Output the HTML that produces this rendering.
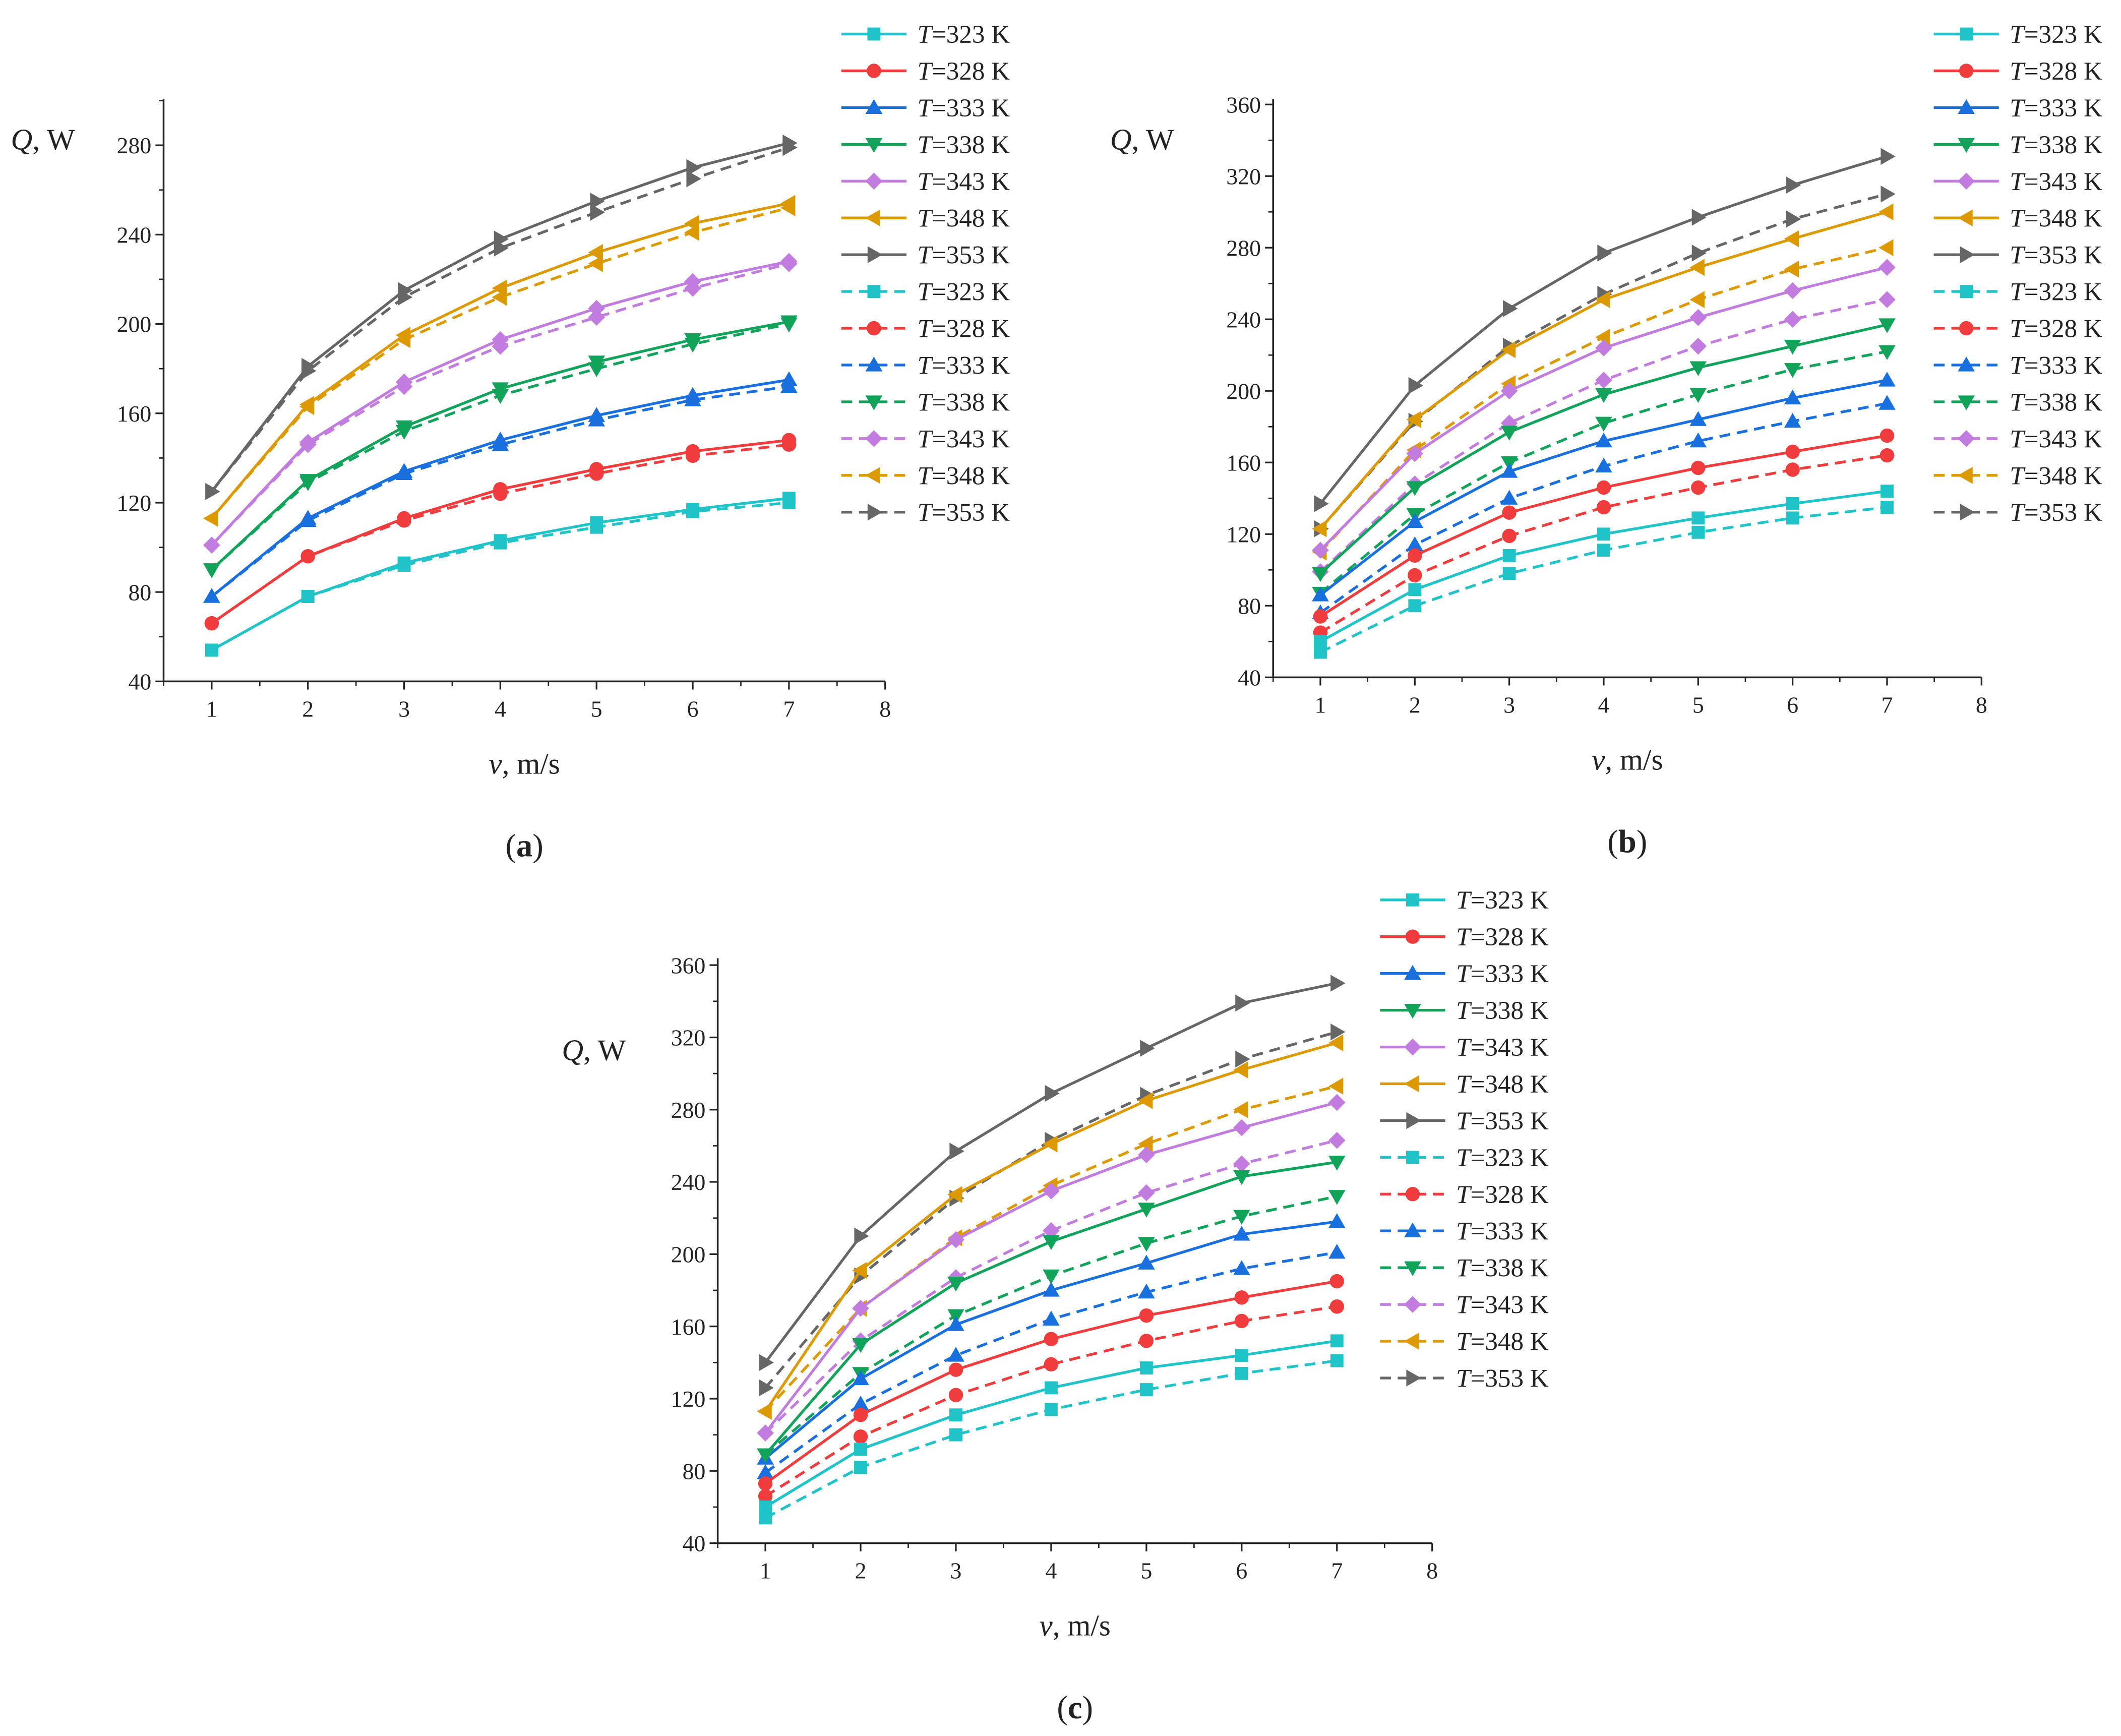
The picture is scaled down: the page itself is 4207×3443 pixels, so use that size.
<!DOCTYPE html>
<html><head><meta charset="utf-8"><style>
html,body{margin:0;padding:0;background:#fff;}
svg{display:block;}
text{font-family:"Liberation Serif",serif;fill:#222;}
</style></head><body>
<svg id="fig" width="4207" height="3443" viewBox="0 0 1563 1279" xmlns="http://www.w3.org/2000/svg"></svg>
<script>
const xCats=[1,2,3,4,5,6,7];
const temps=[323,328,333,338,343,348,353];
const colors=["#1fc3c8","#f03c3c","#1a6fdf","#12a35a","#c27ce0","#dd9a00","#666666"];
const markers=["square","circle","up","down","diamond","left","right"];
const xTicks=[1,2,3,4,5,6,7,8];
const yTicksA=[40,80,120,160,200,240,280];
const yTicksBC=[40,80,120,160,200,240,280,320,360];
// panel a
const aSolid=[[54,78,93,103,111,117,122],[66,96,113,126,135,143,148],[78,113,134,148,159,168,175],[90,130,154,171,183,193,201],[101,147,174,193,207,219,228],[113,164,195,216,232,245,254],[125,181,215,238,255,270,281]];
const aDash=[[54,78,92,102,109,116,120],[66,96,112,124,133,141,146],[78,112,133,146,157,166,172],[90,129,152,168,180,191,200],[101,146,172,190,203,216,227],[113,163,193,212,227,241,252],[125,179,212,234,250,265,279]];
// panel b
const bSolid=[[60,89,108,120,129,137,144],[74,108,132,146,157,166,175],[86,127,155,172,184,196,206],[98,146,177,198,213,225,237],[111,165,200,224,241,256,269],[123,184,223,251,269,285,300],[137,203,246,277,297,315,331]];
const bDash=[[54,80,98,111,121,129,135],[65,97,119,135,146,156,164],[76,114,140,158,172,183,193],[87,131,160,182,198,212,222],[99,148,182,206,225,240,251],[110,167,204,230,251,268,280],[123,183,225,254,277,296,310]];
// panel c
const cSolid=[[60,92,111,126,137,144,152],[73,111,136,153,166,176,185],[87,131,161,180,195,211,218],[89,150,184,207,225,243,251],[101,170,208,235,255,270,284],[113,191,233,261,285,302,317],[140,210,257,289,314,339,350]];
const cDash=[[54,82,100,114,125,134,141],[66,99,122,139,152,163,171],[79,117,144,164,179,192,201],[89,134,166,188,206,221,232],[101,152,187,213,234,250,263],[113,170,209,238,261,280,293],[126,188,231,263,288,308,323]];

const NS="http://www.w3.org/2000/svg";
const svg=document.getElementById('fig');
function el(tag,attrs,parent){const e=document.createElementNS(NS,tag);for(const k in attrs)e.setAttribute(k,attrs[k]);(parent||svg).appendChild(e);return e;}

function marker(g,type,x,y,c,s){
  let e;
  if(type==="square") e=el('rect',{x:x-s,y:y-s,width:2*s,height:2*s,fill:c},g);
  else if(type==="circle") e=el('circle',{cx:x,cy:y,r:s*1.1,fill:c},g);
  else {
    let p;
    const r=s*1.3;
    if(type==="up") p=[[x,y-r],[x+r,y+r*0.75],[x-r,y+r*0.75]];
    if(type==="down") p=[[x,y+r],[x+r,y-r*0.75],[x-r,y-r*0.75]];
    if(type==="left") p=[[x-r,y],[x+r*0.75,y-r],[x+r*0.75,y+r]];
    if(type==="right") p=[[x+r,y],[x-r*0.75,y-r],[x-r*0.75,y+r]];
    if(type==="diamond") p=[[x,y-r],[x+r,y],[x,y+r],[x-r,y]];
    e=el('polygon',{points:p.map(q=>q.join(',')).join(' '),fill:c},g);
  }
  
  
}

function panel(id,P){
  const g=el('g',{});
  
  
  const sx=v=>P.x1+(v-1)*P.ux;
  const sy=v=>P.y40-(v-40)*P.uy;
  const left=sx(0.5), bottom=sy(40), top=P.top, right=sx(8);
  const ax=el('line',{x1:left,y1:bottom,x2:right,y2:bottom,stroke:'#222','stroke-width':1.3},g);
  
  const ay=el('line',{x1:left,y1:bottom,x2:left,y2:top,stroke:'#222','stroke-width':1.3},g);
  
  xTicks.forEach(t=>{
    el('line',{x1:sx(t),y1:bottom,x2:sx(t),y2:bottom+6,stroke:'#222','stroke-width':1.2},g);
    el('line',{x1:sx(t-0.5),y1:bottom,x2:sx(t-0.5),y2:bottom+3.5,stroke:'#222','stroke-width':1},g);
    const tx=el('text',{x:sx(t),y:bottom+26,'font-size':17,'text-anchor':'middle'},g);
    tx.textContent=t;
    
  });
  P.yt.forEach((t,i)=>{
    el('line',{x1:left,y1:sy(t),x2:left-6,y2:sy(t),stroke:'#222','stroke-width':1.2},g);
    if(sy(t+20)>=top-1) el('line',{x1:left,y1:sy(t+20),x2:left-3.5,y2:sy(t+20),stroke:'#222','stroke-width':1},g);
    const ty=el('text',{x:left-9,y:sy(t)+6,'font-size':17,'text-anchor':'end'},g);
    ty.textContent=t;
    
  });
  const yl=el('text',{x:P.qx,y:P.qy,'font-size':22},g);
  yl.innerHTML='<tspan font-style="italic">Q</tspan>, W';
  
  const xl=el('text',{x:(left+right)/2,y:bottom+68,'font-size':22,'text-anchor':'middle'},g);
  xl.innerHTML='<tspan font-style="italic">v</tspan>, m/s';
  
  const cap=el('text',{x:(left+right)/2,y:bottom+129,'font-size':24,'text-anchor':'middle'},g);
  cap.innerHTML='(<tspan font-weight="bold">'+id+'</tspan>)';
  
  [[P.dash,'8,5'],[P.solid,null]].forEach(([set,da])=>{
    set.forEach((vals,i)=>{
      const pts=vals.map((v,j)=>sx(xCats[j])+','+sy(v)).join(' ');
      const a={points:pts,fill:'none',stroke:colors[i],'stroke-width':2};
      if(da) a['stroke-dasharray']=da;
      const pl=el('polyline',a,g);
      
      
      vals.forEach((v,j)=>marker(g,markers[i],sx(xCats[j]),sy(v),colors[i],4.8));
    });
  });
  const lg=el('g',{},g);
  
  for(let k=0;k<14;k++){
    const i=k%7, da=k>=7;
    const y=P.ly+k*27.1;
    const a={x1:P.lx,y1:y,x2:P.lx+48,y2:y,stroke:colors[i],'stroke-width':2};
    if(da)a['stroke-dasharray']='8,5';
    el('line',a,lg);
    marker(lg,markers[i],P.lx+24,y,colors[i],4.8);
    const t=el('text',{x:P.lx+56,y:y+6.5,'font-size':19},lg);
    t.innerHTML='<tspan font-style="italic">T</tspan>='+temps[i]+' K';
    
  }
}
panel('a',{x1:156,ux:70.9,y40:502,uy:1.646,top:73,yt:yTicksA,solid:aSolid,dash:aDash,qx:8,qy:110,lx:620,ly:25});
panel('b',{x1:973,ux:69.6,y40:499,uy:1.319,top:73,yt:yTicksBC,solid:bSolid,dash:bDash,qx:818,qy:110,lx:1425,ly:25});
panel('c',{x1:564,ux:70.2,y40:1137,uy:1.331,top:706,yt:yTicksBC,solid:cSolid,dash:cDash,qx:414,qy:781,lx:1017,ly:663});
</script>
</body></html>
